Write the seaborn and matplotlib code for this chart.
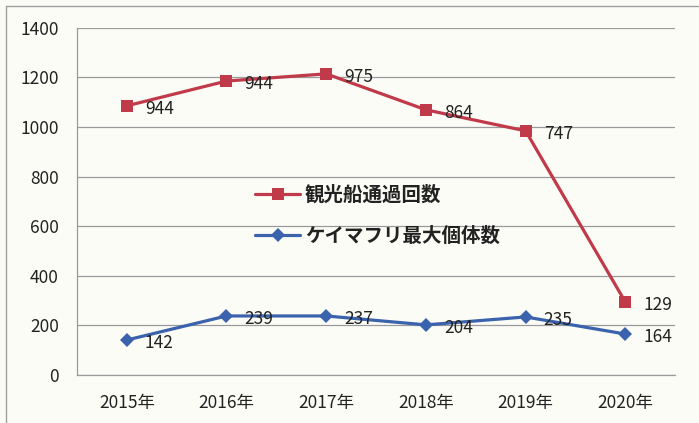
import pandas as pd
import matplotlib.pyplot as plt
import seaborn as sns
from matplotlib.lines import Line2D

# データ
years = ['2015年', '2016年', '2017年', '2018年', '2019年', '2020年']
# 点の位置
ship_values = [1085, 1185, 1214, 1069, 984, 294]
fish_values = [141, 238, 238, 202, 234, 165]
# データラベル（図に書かれている数値）
ship_labels = ['944', '944', '975', '864', '747', '129']
fish_labels = ['142', '239', '237', '204', '235', '164']

ship_name = '観光船通過回数'
fish_name = 'ケイマフリ最大個体数'

red = '#c03a4a'
blue = '#3b62ad'

sns.set_theme(style="white")
plt.rcParams['font.family'] = ['Noto Sans CJK JP', 'DejaVu Sans']

df = pd.DataFrame({'年': years, ship_name: ship_values, fish_name: fish_values})

fig = plt.figure(figsize=(6.99, 4.23), dpi=100, facecolor='#fcfcf7')
ax = fig.add_axes([0.110, 0.1135, 0.856, 0.821])
ax.set_facecolor('#fcfcf7')

sns.lineplot(data=df, x='年', y=ship_name, ax=ax, color=red, lw=2.3,
             marker='s', markersize=9, markeredgewidth=0, sort=False)
sns.lineplot(data=df, x='年', y=fish_name, ax=ax, color=blue, lw=2.3,
             marker='D', markersize=7, markeredgewidth=0, sort=False)

for i, (v, t) in enumerate(zip(ship_values, ship_labels)):
    ax.annotate(t, (i, v), xytext=(13, -2), textcoords='offset points',
                ha='left', va='center', fontsize=12.5, color='#222222')
for i, (v, t) in enumerate(zip(fish_values, fish_labels)):
    ax.annotate(t, (i, v), xytext=(13, -2), textcoords='offset points',
                ha='left', va='center', fontsize=12.5, color='#222222')

ax.set_xlim(-0.5, 5.5)
ax.set_ylim(0, 1400)
ax.set_yticks(range(0, 1401, 200))
ax.yaxis.grid(True, color='#9a9a9a', lw=0.9)
ax.xaxis.grid(False)
ax.set_xlabel('')
ax.set_ylabel('')
ax.tick_params(axis='both', labelsize=12.5, colors='#222222', length=0)
ax.tick_params(axis='y', pad=13)
ax.tick_params(axis='x', pad=14)
for s in ['top', 'right']:
    ax.spines[s].set_visible(False)
for s in ['left', 'bottom']:
    ax.spines[s].set_color('#9a9a9a')
    ax.spines[s].set_linewidth(0.9)

handles = [Line2D([], [], color=red, lw=2.3, marker='s', markersize=9, markeredgewidth=0),
           Line2D([], [], color=blue, lw=2.3, marker='D', markersize=7, markeredgewidth=0)]
leg = ax.legend(handles, [ship_name, fish_name], loc='center left',
                bbox_to_anchor=(0.298, 0.459), frameon=False, fontsize=14,
                handlelength=2.3, handletextpad=0.25, labelspacing=1.1,
                borderpad=0, borderaxespad=0)
for t in leg.get_texts():
    t.set_color('#222222')
    t.set_fontweight('bold')

# 外枠
fig.add_artist(Line2D([0.008, 0.998], [0.986, 0.986], transform=fig.transFigure, color='#a0a0a0', lw=1))
fig.add_artist(Line2D([0.008, 0.008], [0.0, 0.986], transform=fig.transFigure, color='#a0a0a0', lw=1))

fig.savefig('out.png', dpi=100, facecolor=fig.get_facecolor())
